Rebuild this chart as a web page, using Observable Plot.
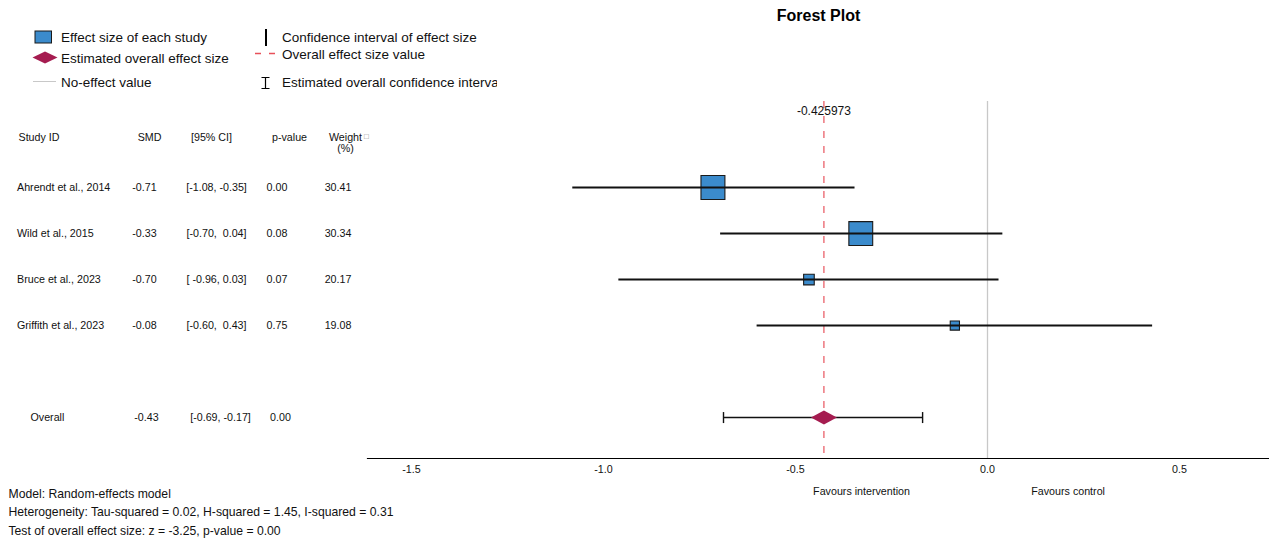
<!DOCTYPE html>
<html>
<head>
<meta charset="utf-8">
<script src="https://cdn.jsdelivr.net/npm/d3@7"></script>
<script src="https://cdn.jsdelivr.net/npm/@observablehq/plot@0.6"></script>
<style>
  body { margin: 0; background: #fff; }
  #wrap { position: relative; width: 1269px; height: 539px; font-family: "Liberation Sans", Arial, Helvetica, sans-serif; }
  #wrap svg text { white-space: pre; }
  #legend { position: absolute; left: 0; top: 0; }
</style>
</head>
<body>
<div id="wrap"></div>
<script>
// ---------------- data ----------------
const studies   = ["Ahrendt et al., 2014", "Wild et al., 2015", "Bruce et al., 2023", "Griffith et al., 2023"];
const smdText   = ["-0.71", "-0.33", "-0.70", "-0.08"];
const ciText    = ["[-1.08, -0.35]", "[-0.70,  0.04]", "[ -0.96, 0.03]", "[-0.60,  0.43]"];
const pText     = ["0.00", "0.08", "0.07", "0.75"];
const weights   = [30.41, 30.34, 20.17, 19.08];
const smdPoint  = [-0.715, -0.33, -0.465, -0.085];   // plotted marker positions
const ciLow     = [-1.08, -0.695, -0.96, -0.60];
const ciHigh    = [-0.345, 0.04, 0.03, 0.43];

const overallEst  = -0.425973;
const overallLow  = -0.6875;
const overallHigh = -0.169;
const overallText = ["Overall", "-0.43", "[-0.69, -0.17]", "0.00"];

const headers   = ["Study ID", "SMD", "[95% CI]", "p-value", "Weight\n(%)"];
const xTicks    = [-1.5, -1.0, -0.5, 0.0, 0.5];
const favours   = ["Favours intervention", "Favours control"];
const footer    = [
  "Model: Random-effects model",
  "Heterogeneity: Tau-squared = 0.02, H-squared = 1.45, I-squared = 0.31",
  "Test of overall effect size: z = -3.25, p-value = 0.00"
];
const legendCol1 = ["Effect size of each study", "Estimated overall effect size", "No-effect value"];
const legendCol2 = ["Confidence interval of effect size", "Overall effect size value", "Estimated overall confidence interval"];

// ---------------- table ----------------
const rows = studies.map((s, i) => ({
  row: i, study: s, smd: smdText[i], ci: ciText[i], p: pText[i],
  w: weights[i], est: smdPoint[i], lo: ciLow[i], hi: ciHigh[i]
}));
const OVERALL_ROW = 5, HEADER_ROW = -1;
const overall = [{row: OVERALL_ROW, est: overallEst, lo: overallLow, hi: overallHigh}];

const LEFT = 367;
const diamondSym = {draw(ctx, size) { const r = Math.sqrt(size / Math.PI), h = r * 0.54;
  ctx.moveTo(-r, 0); ctx.lineTo(0, -h); ctx.lineTo(r, 0); ctx.lineTo(0, h); ctx.closePath(); }};
const capSym = {draw(ctx, size) { const r = Math.sqrt(size / Math.PI); ctx.moveTo(0, -r); ctx.lineTo(0, r); }};

const font = "'Liberation Sans', Arial, Helvetica, sans-serif";
const col = (dxPx, extra = {}) => ({frameAnchor: "left", dx: dxPx - LEFT, textAnchor: "middle", lineAnchor: "middle", fill: "#111", ...extra});

const chart = Plot.plot({
  width: 1269,
  height: 539,
  marginLeft: LEFT,
  marginRight: 0,
  marginTop: 101,
  marginBottom: 81,
  style: {fontFamily: font, fontSize: "10.7px", background: "transparent", overflow: "visible"},
  x: {domain: [-1.6146, 0.7344]},
  y: {domain: [5.89, -1.87], axis: null},
  r: {type: "linear", domain: [19.08, 30.41], range: [5.2, 13.5]},
  marks: [
    // no-effect line
    Plot.ruleX([0], {stroke: "#c8c8c8", strokeWidth: 1.3}),
    // overall effect line
    Plot.ruleX(overall, {x: "est", stroke: "#e3313d", strokeWidth: 1, strokeDasharray: "7,8"}),
    Plot.text(overall, {x: "est", frameAnchor: "top", lineAnchor: "middle", dy: 10, text: d => String(d.est), fontSize: 12, fill: "#111"}),
    // study squares
    Plot.dot(rows, {x: "est", y: "row", r: "w", symbol: "square", fill: "#3b8bcc", stroke: "#1a1a1a", strokeWidth: 1.1}),
    // study CIs
    Plot.ruleY(rows, {y: "row", x1: "lo", x2: "hi", stroke: "#111", strokeWidth: 2}),
    // overall CI with caps
    Plot.ruleY(overall, {y: "row", x1: "lo", x2: "hi", stroke: "#111", strokeWidth: 1.4}),
    Plot.dot(overall, {x: "lo", y: "row", r: 5.5, symbol: capSym, fill: "none", stroke: "#111", strokeWidth: 1.4}),
    Plot.dot(overall, {x: "hi", y: "row", r: 5.5, symbol: capSym, fill: "none", stroke: "#111", strokeWidth: 1.4}),
    // overall diamond
    Plot.dot(overall, {x: "est", y: "row", r: 13, symbol: diamondSym, fill: "#a51c50", stroke: "none"}),
    // axis
    Plot.frame({anchor: "bottom", stroke: "#000", strokeWidth: 1.2}),
    Plot.axisX({ticks: xTicks, tickFormat: d => d.toFixed(1), tickSize: 0, tickPadding: 7, label: null, fontSize: 10.7, fill: "#111"}),
    Plot.text([favours[0]], {x: -0.328, frameAnchor: "bottom", lineAnchor: "middle", dy: 33, fontSize: 10.7, fill: "#111"}),
    Plot.text([favours[1]], {x: 0.21, frameAnchor: "bottom", lineAnchor: "middle", dy: 33, fontSize: 10.7, fill: "#111"}),
    // title
    Plot.text(["Forest Plot"], {frameAnchor: "top", lineAnchor: "middle", dy: -86, fontSize: 16, fontWeight: "bold", fill: "#000"}),
    // table header
    Plot.text([headers[0]], {y: HEADER_ROW, ...col(18, {textAnchor: "start", dy: -4})}),
    Plot.text([headers[1]], {y: HEADER_ROW, ...col(149, {dy: -4})}),
    Plot.text([headers[2]], {y: HEADER_ROW, ...col(211, {dy: -4})}),
    Plot.text([headers[3]], {y: HEADER_ROW, ...col(289, {dy: -4})}),
    Plot.text([headers[4]], {y: HEADER_ROW, ...col(345, {dy: 1.5, lineHeight: 1.05})}),
    Plot.text(["\u25A1"], {y: HEADER_ROW, ...col(366, {dy: -5, fontSize: 8, fill: "#888"})}),
    // table rows
    Plot.text(rows, {y: "row", text: "study", ...col(16.5, {textAnchor: "start"})}),
    Plot.text(rows, {y: "row", text: "smd", ...col(144)}),
    Plot.text(rows, {y: "row", text: "ci", ...col(216)}),
    Plot.text(rows, {y: "row", text: "p", ...col(276.5)}),
    Plot.text(rows, {y: "row", text: d => d.w.toFixed(2), ...col(337.5)}),
    // overall row
    Plot.text([overallText[0]], {y: OVERALL_ROW, ...col(30, {textAnchor: "start"})}),
    Plot.text([overallText[1]], {y: OVERALL_ROW, ...col(146)}),
    Plot.text([overallText[2]], {y: OVERALL_ROW, ...col(220)}),
    Plot.text([overallText[3]], {y: OVERALL_ROW, ...col(280)}),
    // footer
    Plot.text([footer.join("\n")], {frameAnchor: "bottom-left", dx: 8 - LEFT, dy: 52, textAnchor: "start", lineAnchor: "middle", lineHeight: 1.52, fontSize: 12.2, fill: "#111"})
  ]
});
document.getElementById("wrap").appendChild(chart);

// ---------------- legend ----------------
const lg = d3.create("svg").attr("id", "legend").attr("width", 497).attr("height", 100)
  .style("overflow", "hidden").style("font-family", font);
lg.append("rect").attr("x", 35).attr("y", 31).attr("width", 16.5).attr("height", 12)
  .attr("fill", "#3b8bcc").attr("stroke", "#1a1a1a").attr("stroke-width", 1);
lg.append("path").attr("d", "M32.5,57.5L45,51.5L57.5,57.5L45,63.5Z").attr("fill", "#a51c50");
lg.append("line").attr("x1", 33).attr("x2", 56).attr("y1", 81.5).attr("y2", 81.5)
  .attr("stroke", "#c8c8c8").attr("stroke-width", 1);
lg.append("line").attr("x1", 266).attr("x2", 266).attr("y1", 29).attr("y2", 46)
  .attr("stroke", "#000").attr("stroke-width", 2);
lg.append("line").attr("x1", 255).attr("x2", 277).attr("y1", 53.5).attr("y2", 53.5)
  .attr("stroke", "#e8505a").attr("stroke-width", 1.4).attr("stroke-dasharray", "6,8");
lg.append("path").attr("d", "M261.5,77.5H269.5M265.5,77.5V88.5M261.5,88.5H269.5")
  .attr("stroke", "#000").attr("stroke-width", 1.2).attr("fill", "none");
const ly1 = [37.3, 58.3, 82.3], ly2 = [37.3, 54.3, 82.3];
legendCol1.forEach((t, i) => lg.append("text").attr("x", 61).attr("y", ly1[i]).attr("dy", "0.35em")
  .attr("font-size", 13.5).attr("fill", "#111").text(t));
legendCol2.forEach((t, i) => lg.append("text").attr("x", 282).attr("y", ly2[i]).attr("dy", "0.35em")
  .attr("font-size", 13.5).attr("fill", "#111").text(t));
document.getElementById("wrap").appendChild(lg.node());
</script>
</body>
</html>
